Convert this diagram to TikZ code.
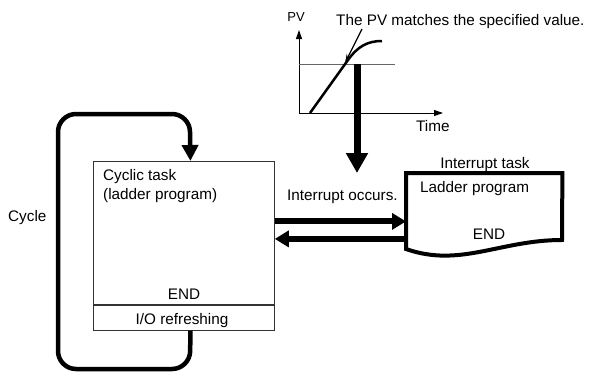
\documentclass[tikz,border=0pt]{standalone}
\usepackage{fontspec}
\setmainfont{Liberation Sans}
\usetikzlibrary{arrows.meta,positioning}

\begin{document}
\begin{tikzpicture}[x=1pt,y=-1pt,
  txt/.style={inner sep=0pt,font=\fontsize{15.3}{19}\selectfont},
  taskbox/.style={draw=black!80,line width=.8pt,inner sep=0pt},
  bigarrow/.style={line width=6pt,-{Triangle[width=16pt,length=14pt]}},
  axis/.style={line width=1pt,-{Triangle[width=6pt,length=9pt]}}]
\useasboundingbox (0,0) rectangle (590,375);
% cyclic task
\node[taskbox,minimum width=181pt,minimum height=143pt,anchor=north west] (cyc) at (93,161) {};
\node[taskbox,minimum width=181pt,minimum height=25pt,anchor=north] (io) at (cyc.south) {};
\node[txt,anchor=base west] (cyctxt) at (103,180) {Cyclic task};
\node[txt,anchor=base west] (cyctxt2) at (103,199) {(ladder program)};
\node[txt,anchor=base] (cycend) at (184,299) {END};
\node[txt,anchor=base] (iotxt) at (182,324) {I/O refreshing};
% cycle loop
\node[txt,anchor=base west] (cyclbl) at (8,221) {Cycle};
\coordinate (loopend) at (190,140);
\draw[line width=4.5pt,rounded corners=18pt]
  ([xshift=6.5pt]io.south) -- (190,369) -- (58,369) -- (58,114) -- (190,114) -- (loopend);
\draw[line width=4.5pt,-{Triangle[width=16pt,length=16pt]}] (loopend) -- ([xshift=6.5pt]cyc.north);
% interrupt task
\node[inner sep=0pt,minimum width=156pt,minimum height=77pt,anchor=north west] (intr) at (406,173) {};
\draw[line width=4pt,line join=miter] (406,249) -- (intr.north west) -- (intr.north east) -- (562,240)
  .. controls (500,240) and (460,268) .. (406,249) -- cycle;
\node[txt,anchor=base] (intrlbl) at (485,168) {Interrupt task};
\node[txt,anchor=base west] (ladder) at (420,192) {Ladder program};
\node[txt,anchor=base] (intrend) at (489,239) {END};
% interrupt arrows
\coordinate (go) at ([yshift=11.5pt]cyc.east);
\coordinate (back) at ([yshift=-6pt]cyc.east);
\draw[bigarrow] (go) -- (go -| intr.west);
\draw[bigarrow] (back -| intr.west) -- (back);
\node[txt,anchor=base west] (occlbl) at (287,200) {Interrupt occurs.};
% PV graph
\coordinate (orig) at (299,113);
\draw[axis] (orig) -- (299,30);
\draw[axis] (orig) -- (443,113);
\draw[black!60,line width=1pt] (299,64) -- (395,64);
\draw[line width=2.5pt] (310,113) -- (348,60) .. controls (358,46) and (368,41) .. (382,41);
\node[inner sep=0pt,font=\fontsize{13}{15}\selectfont,anchor=base] (pvlbl) at (296,21) {PV};
\node[txt,anchor=base west] (match) at (336,25) {The PV matches the specified value.};
\draw[line width=1.2pt,-{Stealth[length=9pt,width=5pt]}] (362,29) -- (345,63);
\node[txt,anchor=base west] (timelbl) at (416,131) {Time};
\draw[line width=7pt,-{Triangle[width=21pt,length=20pt]}] (357,64) -- (357,173);
\end{tikzpicture}
\end{document}
